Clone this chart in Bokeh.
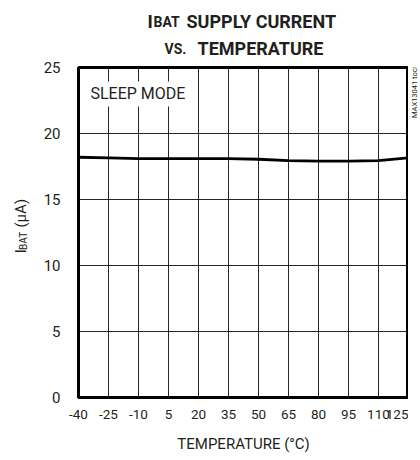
import math
from bokeh.plotting import figure
from bokeh.models import Label, FixedTicker, Range1d
from bokeh.layouts import column, row
from bokeh.embed import file_html
from bokeh.resources import INLINE

# data
temperature = [-40, -25, -10, 5, 20, 35, 50, 65, 80, 95, 110, 125]
i_bat = [18.2, 18.15, 18.1, 18.1, 18.1, 18.1, 18.05, 17.95, 17.9, 17.9, 17.95, 18.15]
x_ticks = [-40, -25, -10, 5, 20, 35, 50, 65, 80, 95, 110, 125]
x_tick_labels = ["-40", "-25", "-10", "5", "20", "35", "50", "65", "80", "95", "110", "125"]
y_ticks = [0, 5, 10, 15, 20, 25]

FONT = "Roboto"
TXT = "#231f20"

W, TITLE_H, ROW_H = 420, 60, 398
YLAB_W, SIDE_W = 34, 12
MAIN_W = W - YLAB_W - SIDE_W


def blank(width, height, x0, y0):
    """A figure whose data coordinates equal page pixels (y down)."""
    f = figure(width=width, height=height, x_range=Range1d(x0, x0 + width),
               y_range=Range1d(y0 + height, y0), output_backend="svg", toolbar_location=None,
               x_axis_type=None, y_axis_type=None, min_border=0)
    f.grid.visible = False
    f.outline_line_color = None
    f.background_fill_color = "white"
    f.border_fill_color = "white"
    return f


def lab(f, x, y, text, size, bold=False, angle=0, align="left", baseline="alphabetic"):
    f.add_layout(Label(x=x, y=y, text=text, text_font=FONT, text_font_size=f"{size}px",
                       text_font_style="bold" if bold else "normal", text_color=TXT,
                       angle=angle, text_align=align, text_baseline=baseline))


# ---- title strip
t = blank(W, TITLE_H, 0, 0)
lab(t, 147, 21, "I", 18, bold=True)
lab(t, 153, 21, "BAT", 14, bold=True)
lab(t, 186, 21, "SUPPLY CURRENT", 18, bold=True)
lab(t, 164, 48, "VS.", 14, bold=True)
lab(t, 197, 48, "TEMPERATURE", 18, bold=True)

# ---- y label strip
yl = blank(YLAB_W, ROW_H, 0, TITLE_H)
lab(yl, 20, 284, "I", 15, angle=math.pi / 2, baseline="middle")
lab(yl, 23, 280, "BAT", 10, angle=math.pi / 2, baseline="middle")
lab(yl, 20, 253, "(µA)", 15, angle=math.pi / 2, baseline="middle")

# ---- side note strip
sd = blank(SIDE_W, ROW_H, W - SIDE_W, TITLE_H)
lab(sd, 414, 121, "MAX13041 toc01", 7.5, angle=math.pi / 2, baseline="middle")

# ---- main chart
p = figure(width=MAIN_W, height=ROW_H, x_range=Range1d(-40, 125), y_range=Range1d(0, 25),
           output_backend="svg", toolbar_location=None,
           min_border_left=44, min_border_right=MAIN_W - 44 - 330, min_border_top=7,
           min_border_bottom=ROW_H - 7 - 330)
p.background_fill_color = "white"
p.border_fill_color = "white"
p.outline_line_color = "black"
p.outline_line_width = 3

p.xaxis.ticker = FixedTicker(ticks=x_ticks)
p.yaxis.ticker = FixedTicker(ticks=y_ticks)
p.xaxis.major_label_overrides = {t_: s for t_, s in zip(x_ticks, x_tick_labels)}
p.xgrid.ticker = FixedTicker(ticks=x_ticks)
p.ygrid.ticker = FixedTicker(ticks=y_ticks)
for g in (p.xgrid, p.ygrid):
    g.grid_line_color = "black"
    g.grid_line_width = 1
    g.grid_line_alpha = 0.85

for ax in (p.xaxis, p.yaxis):
    ax.axis_line_color = None
    ax.major_tick_line_color = None
    ax.minor_tick_line_color = None
    ax.major_label_text_font = FONT
    ax.major_label_text_font_size = "13.5px"
    ax.major_label_text_color = TXT
p.yaxis.major_label_text_font_size = "15px"
p.xaxis.major_label_standoff = 6
p.yaxis.major_label_standoff = 12

p.xaxis.axis_label = "TEMPERATURE (°C)"
p.xaxis.axis_label_text_font = FONT
p.xaxis.axis_label_text_font_size = "15px"
p.xaxis.axis_label_text_font_style = "normal"
p.xaxis.axis_label_text_color = TXT
p.xaxis.axis_label_standoff = 13

p.line(temperature, i_bat, line_color="black", line_width=2.8)

p.add_layout(Label(x=-35.5, y=23, text="SLEEP MODE", text_font=FONT, text_font_size="16px",
                   text_color=TXT, text_baseline="alphabetic",
                   background_fill_color="white", padding=3))

layout = column(t, row(yl, p, sd, spacing=0), spacing=0)
open("out.html", "w").write(file_html(layout, INLINE))
